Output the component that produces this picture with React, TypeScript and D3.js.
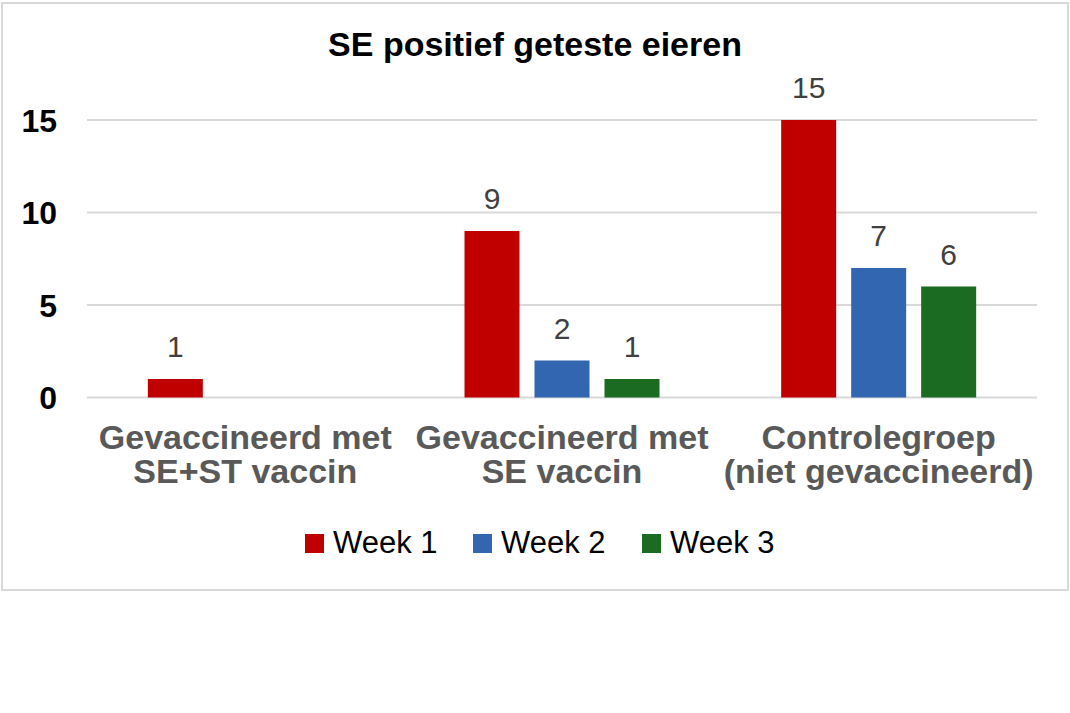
import React from 'react';
import * as d3 from 'd3';

// chart data
const categories = [
  ['Gevaccineerd met', 'SE+ST vaccin'],
  ['Gevaccineerd met', 'SE vaccin'],
  ['Controlegroep', '(niet gevaccineerd)'],
];
const series = ['Week 1', 'Week 2', 'Week 3'];
const week1 = [1, 9, 15];
const week2 = [0, 2, 7];
const week3 = [0, 1, 6];
const yTicks = [0, 5, 10, 15];
const colors = ['#C00000', '#3366B0', '#1B6B23'];

const values = [week1, week2, week3];

const W = 1070;
const H = 713;
const FONT = '"Liberation Sans", Arial, sans-serif';

const App = () => {
  const left = 87;
  const right = 1037;
  const catKeys = categories.map((c) => c.join(' '));

  const x0 = d3.scaleBand<string>().domain(catKeys).range([left, right]).padding(0);
  // bars 55 wide on a 70px step inside each group
  const step = 70;
  const barW = 55;
  const pi = (step - barW) / step;
  const po = (x0.bandwidth() / step - 3 + pi) / 2;
  const x1 = d3
    .scaleBand<string>()
    .domain(series)
    .range([0, x0.bandwidth()])
    .paddingInner(pi)
    .paddingOuter(po);

  const y = d3.scaleLinear().domain([0, 15]).range([397.5, 120]);

  return (
    <svg
      width={W}
      height={H}
      style={{ position: 'absolute', left: 0, top: 0, background: '#fff' }}
      fontFamily={FONT}
    >
      <rect x={2} y={3} width={1066} height={587} fill="#fff" stroke="#D9D9D9" strokeWidth={2} />

      <text x={535} y={56} textAnchor="middle" fontSize={34} fontWeight="bold" fill="#000">
        SE positief geteste eieren
      </text>

      {/* gridlines and y ticks */}
      {yTicks.map((t) => (
        <g key={t}>
          <line x1={left} x2={right} y1={y(t)} y2={y(t)} stroke="#D9D9D9" strokeWidth={2} />
          <text
            x={57}
            y={y(t)}
            dy="0.36em"
            textAnchor="end"
            fontSize={32}
            fontWeight="bold"
            fill="#000"
          >
            {t}
          </text>
        </g>
      ))}

      {/* bars */}
      {catKeys.map((c, ci) => (
        <g key={c} transform={`translate(${x0(c)},0)`}>
          {series.map((s, si) => {
            const v = values[si][ci];
            if (!v) return null;
            const bx = x1(s) as number;
            return (
              <g key={s}>
                <rect
                  x={bx}
                  y={y(v)}
                  width={x1.bandwidth()}
                  height={y(0) - y(v)}
                  fill={colors[si]}
                />
                <text
                  x={bx + x1.bandwidth() / 2}
                  y={y(v) - 22}
                  textAnchor="middle"
                  fontSize={30}
                  fill="#404040"
                >
                  {v}
                </text>
              </g>
            );
          })}
        </g>
      ))}

      {/* category labels */}
      {categories.map((lines, ci) => {
        const cx = (x0(catKeys[ci]) as number) + x0.bandwidth() / 2;
        return (
          <text key={ci} x={cx} textAnchor="middle" fontSize={34} fontWeight="bold" fill="#595959">
            {lines.map((l, li) => (
              <tspan key={li} x={cx} y={449 + li * 34}>
                {l}
              </tspan>
            ))}
          </text>
        );
      })}

      {/* legend */}
      {series.map((s, si) => {
        const lx = [305, 473, 642][si];
        return (
          <g key={s}>
            <rect x={lx} y={534} width={19} height={19} fill={colors[si]} />
            <text x={lx + 28} y={553} fontSize={31} fill="#000">
              {s}
            </text>
          </g>
        );
      })}
    </svg>
  );
};

export default App;
